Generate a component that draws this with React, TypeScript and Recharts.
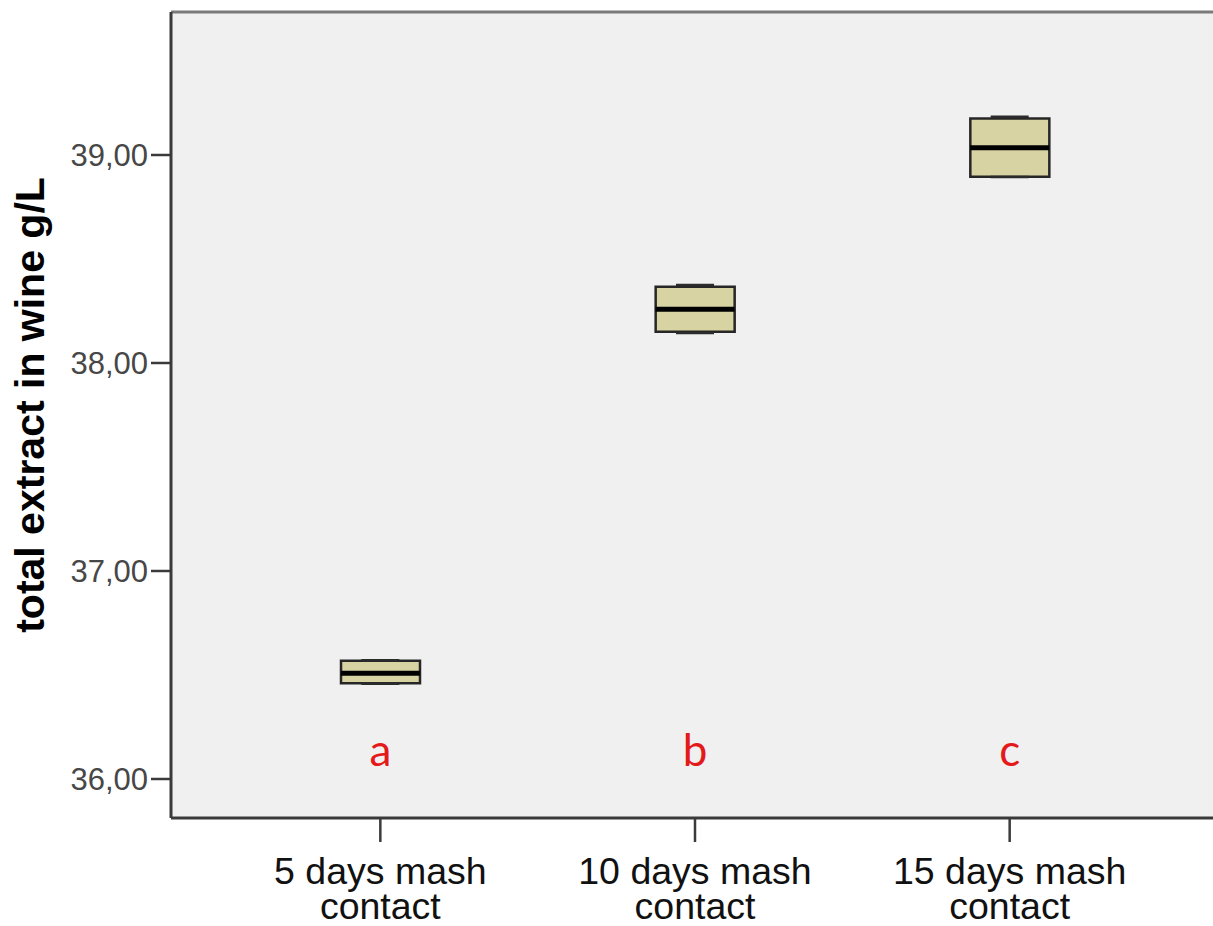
import {
  Bar,
  CartesianGrid,
  ComposedChart,
  ReferenceLine,
  Scatter,
  XAxis,
  YAxis,
} from 'recharts'

const categories = ['5 days mash contact', '10 days mash contact', '15 days mash contact']
const minValues = [36.458, 38.144, 38.894]
const q1Values = [36.46, 38.15, 38.896]
const medianValues = [36.508, 38.258, 39.035]
const q3Values = [36.569, 38.367, 39.176]
const maxValues = [36.571, 38.375, 39.184]
const groupLetters = ['a', 'b', 'c']
const LETTER_LEVEL = 36.125

const yTicks = [36, 37, 38, 39]
const Y_DOMAIN: [number, number] = [35.8125, 39.6875]

const FONT = '"Liberation Sans", Arial, sans-serif'
const AXIS_COLOR = '#3a3a3a'
const BOX_FILL = '#d8d3a3'
const BOX_WIDTH = 79

const data = categories.map((category, i) => ({
  category,
  box: [q1Values[i], q3Values[i]],
  min: minValues[i],
  max: maxValues[i],
  median: medianValues[i],
  letter: groupLetters[i],
  letterLevel: LETTER_LEVEL,
}))

function formatTick(value: number): string {
  return value.toFixed(2).replace('.', ',')
}

function CategoryTick(props: any) {
  const { x, y, payload } = props
  const words = String(payload.value).split(' ')
  const first = words.slice(0, -1).join(' ')
  const last = words[words.length - 1]
  return (
    <text x={x} y={y} textAnchor="middle" fontFamily={FONT} fontSize={37.5} fill="#111111">
      <tspan x={x} dy={40}>{first}</tspan>
      <tspan x={x} dy={35}>{last}</tspan>
    </text>
  )
}

function WhiskerShape(props: any) {
  const { cx, cy } = props
  if (cx == null || cy == null) return null
  return <line x1={cx - 19} x2={cx + 19} y1={cy} y2={cy} stroke="#2b2b2b" strokeWidth={2.5} />
}

function MedianShape(props: any) {
  const { cx, cy } = props
  if (cx == null || cy == null) return null
  return (
    <line x1={cx - BOX_WIDTH / 2} x2={cx + BOX_WIDTH / 2} y1={cy} y2={cy} stroke="#000000" strokeWidth={5} />
  )
}

function LetterShape(props: any) {
  const { cx, cy, payload } = props
  if (cx == null || cy == null) return null
  return (
    <text x={cx} y={cy + 13} textAnchor="middle" fontFamily="Lato, 'Open Sans', sans-serif" fontSize={44} fill="#e41a1a">
      {payload.letter}
    </text>
  )
}

function YLabel(props: any) {
  const { viewBox } = props
  const cx = viewBox.x + 30
  const cy = viewBox.y + viewBox.height / 2 - 10
  return (
    <text
      x={cx}
      y={cy}
      transform={`rotate(-90, ${cx}, ${cy})`}
      textAnchor="middle"
      dominantBaseline="central"
      fontFamily={FONT}
      fontWeight="bold"
      fontSize={41}
      fill="#000000"
    >
      total extract in wine g/L
    </text>
  )
}

export default function App() {
  return (
    <div style={{ position: 'absolute', left: 0, top: 0, width: 1213, height: 926, background: '#ffffff' }}>
      <ComposedChart width={1213} height={926} data={data} margin={{ top: 12, right: 0, bottom: 0, left: 0 }}>
        <CartesianGrid fill="#f0f0f0" stroke="none" horizontal={false} vertical={false} />
        <XAxis
          dataKey="category"
          type="category"
          height={108}
          padding={{ left: 52, right: 46 }}
          tickSize={24}
          tickLine={{ stroke: AXIS_COLOR, strokeWidth: 2.5 }}
          axisLine={{ stroke: AXIS_COLOR, strokeWidth: 3 }}
          tick={<CategoryTick />}
          interval={0}
        />
        <YAxis
          type="number"
          width={171}
          domain={Y_DOMAIN}
          ticks={yTicks}
          allowDataOverflow
          tickFormatter={formatTick}
          tickSize={20}
          tickMargin={3}
          tickLine={{ stroke: AXIS_COLOR, strokeWidth: 2.5 }}
          axisLine={{ stroke: AXIS_COLOR, strokeWidth: 3 }}
          tick={{ fontFamily: FONT, fontSize: 31, fill: '#474747' }}
          label={<YLabel />}
        />
        <ReferenceLine y={Y_DOMAIN[1]} stroke="#7a7a7a" strokeWidth={3} ifOverflow="visible" />
        <Bar
          dataKey="box"
          barSize={BOX_WIDTH}
          fill={BOX_FILL}
          stroke="#262626"
          strokeWidth={2.5}
          isAnimationActive={false}
        />
        <Scatter dataKey="min" shape={<WhiskerShape />} isAnimationActive={false} />
        <Scatter dataKey="max" shape={<WhiskerShape />} isAnimationActive={false} />
        <Scatter dataKey="median" shape={<MedianShape />} isAnimationActive={false} />
        <Scatter dataKey="letterLevel" shape={<LetterShape />} isAnimationActive={false} />
      </ComposedChart>
    </div>
  )
}
